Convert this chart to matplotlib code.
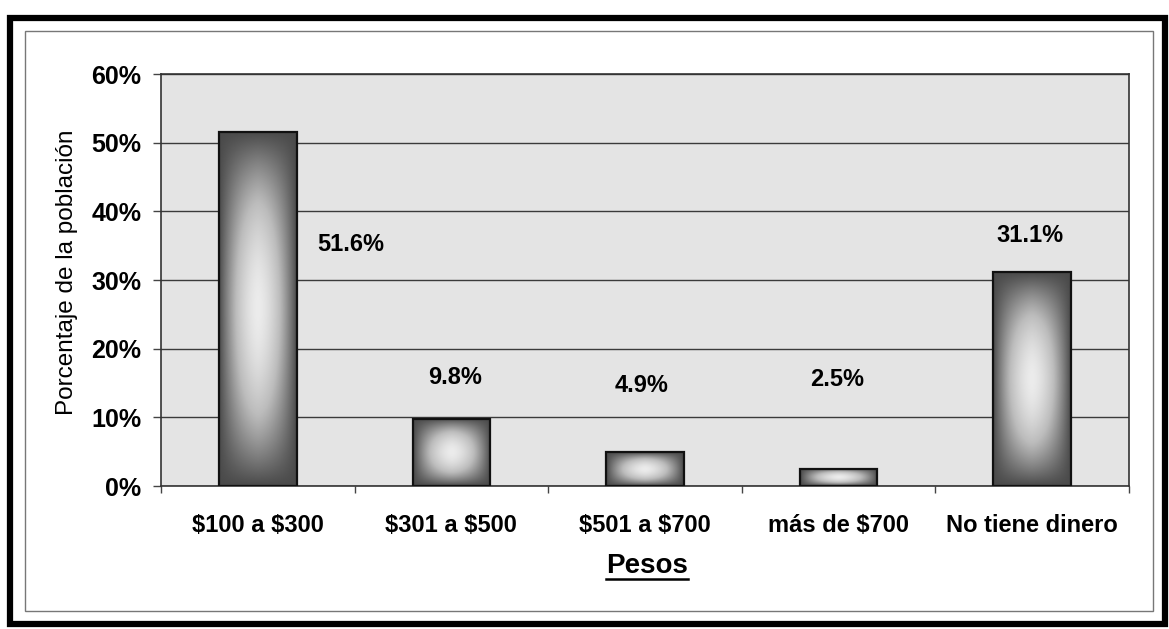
import numpy as np
import matplotlib
matplotlib.use("Agg")
import matplotlib.pyplot as plt
from matplotlib.colors import LinearSegmentedColormap
from matplotlib.patches import Rectangle
from matplotlib.lines import Line2D

plt.rcParams["text.parse_math"] = False

# data
categories = ["$100 a $300", "$301 a $500", "$501 a $700", "más de $700", "No tiene dinero"]
values = [51.6, 9.8, 4.9, 2.5, 31.1]
value_labels = ["51.6%", "9.8%", "4.9%", "2.5%", "31.1%"]
yticks = [0, 10, 20, 30, 40, 50, 60]
ytick_labels = ["0%", "10%", "20%", "30%", "40%", "50%", "60%"]

# label offsets relative to bar top (category units, percent units)
label_shift = [(0.48, -16.4), (0.02, 6.0), (-0.02, 9.7), (-0.01, 13.0), (-0.01, 5.4)]

W, H = 1169, 629
fig = plt.figure(figsize=(W / 100, H / 100), dpi=100)
fig.patch.set_facecolor("white")

ax = fig.add_axes([161 / W, 1 - 486 / H, (1129 - 161) / W, (486 - 74) / H])
ax.set_facecolor("#e4e4e4")

x = np.arange(len(categories))
bar_w = 0.4
bars = ax.bar(x, values, width=bar_w, facecolor="none", edgecolor="#111111",
              linewidth=1.6, zorder=4)

# "from center" gradient fill, clipped to each bar
cmap = LinearSegmentedColormap.from_list(
    "grad", [(0.0, "#ececec"), (0.4, "#bcbcbc"), (0.75, "#7a7a7a"), (1.0, "#4a4a4a")])
n = 200
u = np.linspace(-1, 1, n)
U, V = np.meshgrid(u, u)
grad = 1 - (1 - np.abs(U) ** 1.6) * (1 - np.abs(V) ** 1.8)
for b in bars:
    x0 = b.get_x()
    im = ax.imshow(grad, extent=[x0, x0 + b.get_width(), 0, b.get_height()],
                   cmap=cmap, vmin=0, vmax=1, aspect="auto", zorder=3,
                   interpolation="bilinear")
    im.set_clip_path(b)

ax.set_xlim(-0.5, len(categories) - 0.5)
ax.set_ylim(0, 60)

ax.set_yticks(yticks)
ax.set_yticklabels(ytick_labels, fontfamily="Liberation Sans", fontweight="bold", fontsize=18)
ax.yaxis.grid(True, color="#3a3a3a", linewidth=1.0)
ax.set_axisbelow(True)
ax.tick_params(axis="y", direction="out", length=6, width=1, color="#444444", pad=8)

ax.set_xticks(x)
ax.set_xticklabels(categories, fontfamily="Liberation Sans", fontweight="bold", fontsize=17)
ax.set_xticks(np.arange(len(categories) + 1) - 0.5, minor=True)
ax.tick_params(axis="x", which="major", length=0, pad=20)
ax.tick_params(axis="x", which="minor", direction="out", length=5, width=1, color="#444444")

for s in ax.spines.values():
    s.set_color("#333333")
    s.set_linewidth(1.2)

for i, v in enumerate(values):
    dx, dy = label_shift[i]
    ax.text(x[i] + dx, v + dy, value_labels[i], ha="center", va="center",
            fontfamily="Liberation Sans", fontweight="bold", fontsize=17, zorder=5)

fig.text(67 / W, 1 - 272 / H, "Porcentaje de la población", rotation=90,
         ha="center", va="center", fontfamily="Liberation Sans", fontsize=17.5)

pesos = fig.text(647 / W, 1 - 566 / H, "Pesos", ha="center", va="center",
                 fontfamily="Liberation Sans", fontweight="bold", fontsize=20)

# underline under "Pesos"
fig.canvas.draw()
bb = pesos.get_window_extent().transformed(fig.transFigure.inverted())
uy = 1 - 579 / H
fig.add_artist(Line2D([bb.x0, bb.x1], [uy, uy], color="black", linewidth=1.8,
                      transform=fig.transFigure))

# scanned page frame: thick black outer border and thin inner border
fig.add_artist(Rectangle((10 / W, 1 - 624 / H), (1165 - 10) / W, (624 - 18) / H,
                         transform=fig.transFigure, fill=False,
                         edgecolor="black", linewidth=4.5))
fig.add_artist(Rectangle((25 / W, 1 - 611 / H), (1153 - 25) / W, (611 - 31) / H,
                         transform=fig.transFigure, fill=False,
                         edgecolor="#777777", linewidth=1.0))

fig.savefig("out.png", dpi=100)
